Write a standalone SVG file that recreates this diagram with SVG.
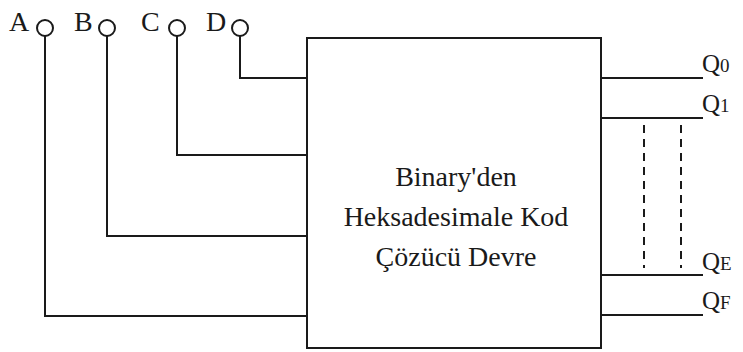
<svg xmlns="http://www.w3.org/2000/svg" width="743" height="352" viewBox="0 0 743 352">
<style>
.w{fill:none;stroke:#1a1a1a;stroke-width:2}
.d{fill:none;stroke:#1a1a1a;stroke-width:2;stroke-dasharray:8,6}
.t{font-family:"Liberation Serif",serif;fill:#1a1a1a}
.l{font-size:28px}
.q{font-size:25px}
.c{font-size:28px;text-anchor:middle}
.s{font-size:19px}
</style>
<rect width="743" height="352" fill="#fff"/>
<g id="box">
<rect class="w" x="307" y="38" width="294" height="310"/>
<text class="t c" x="456" y="186">Binary'den</text>
<text class="t c" x="456" y="226">Heksadesimale Kod</text>
<text class="t c" x="456" y="266">Çözücü Devre</text>
</g>
<g id="inA"><circle class="w" cx="45" cy="28" r="8"/><text class="t l" x="9" y="31">A</text></g>
<g id="inB"><circle class="w" cx="107" cy="28" r="8"/><text class="t l" x="74" y="31">B</text></g>
<g id="inC"><circle class="w" cx="177" cy="28" r="8"/><text class="t l" x="141" y="31">C</text></g>
<g id="inD"><circle class="w" cx="240" cy="28" r="8"/><text class="t l" x="206" y="31">D</text></g>
<g id="outQ0"><text class="t q" x="702" y="72">Q<tspan class="s">0</tspan></text></g>
<g id="outQ1"><text class="t q" x="702" y="112">Q<tspan class="s">1</tspan></text></g>
<g id="outQE"><text class="t q" x="702" y="270">Q<tspan class="s">E</tspan></text></g>
<g id="outQF"><text class="t q" x="702" y="309">Q<tspan class="s">F</tspan></text></g>
<g id="connectors">
<polyline class="w" points="45,36 45,316 307,316"/>
<polyline class="w" points="107,36 107,236 307,236"/>
<polyline class="w" points="177,36 177,155 307,155"/>
<polyline class="w" points="240,36 240,78 307,78"/>
<line class="w" x1="601" y1="78" x2="703" y2="78"/>
<line class="w" x1="601" y1="118" x2="703" y2="118"/>
<line class="w" x1="601" y1="275" x2="703" y2="275"/>
<line class="w" x1="601" y1="315" x2="703" y2="315"/>
<line class="d" x1="644" y1="125" x2="644" y2="268"/>
<line class="d" x1="681" y1="125" x2="681" y2="268"/>
</g>
</svg>
